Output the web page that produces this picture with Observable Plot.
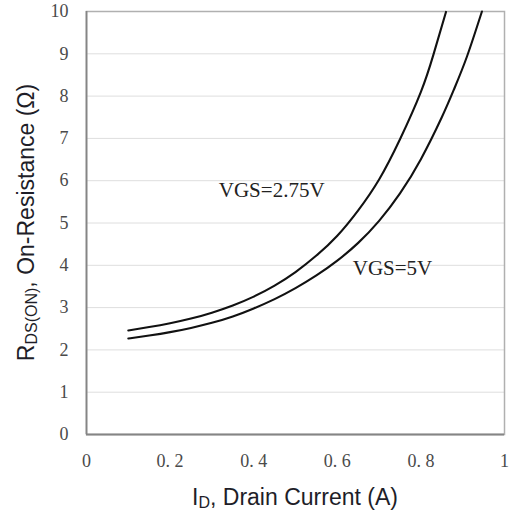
<!DOCTYPE html>
<html>
<head>
<meta charset="utf-8">
<script src="https://cdn.jsdelivr.net/npm/d3@7"></script>
<script src="https://cdn.jsdelivr.net/npm/@observablehq/plot@0.6"></script>
<style>
  html, body { margin: 0; padding: 0; background: #fff; }
  #chart svg { display: block; }
</style>
</head>
<body>
<div id="chart"></div>
<script>
// ---- data ----
const idVgs275 = [0.10, 0.15, 0.20, 0.25, 0.30, 0.35, 0.40, 0.45, 0.50, 0.55, 0.60, 0.65, 0.70, 0.75, 0.80, 0.83, 0.86];
const rVgs275  = [2.46, 2.54, 2.63, 2.74, 2.88, 3.05, 3.26, 3.52, 3.84, 4.23, 4.70, 5.30, 6.03, 6.98, 8.10, 8.98, 9.99];
const idVgs5   = [0.10, 0.15, 0.20, 0.25, 0.30, 0.35, 0.40, 0.45, 0.50, 0.55, 0.60, 0.65, 0.70, 0.75, 0.80, 0.85, 0.88, 0.91, 0.946];
const rVgs5    = [2.27, 2.34, 2.42, 2.52, 2.64, 2.79, 2.98, 3.20, 3.46, 3.76, 4.11, 4.53, 5.05, 5.70, 6.51, 7.50, 8.18, 8.93, 10.0];
const seriesNames = ["VGS=2.75V", "VGS=5V"];
const labelId = [0.443, 0.732];
const labelR  = [5.77, 3.92];
const xTicks = [0, 0.2, 0.4, 0.6, 0.8, 1];
const xTickLabels = ["0", "0. 2", "0. 4", "0. 6", "0. 8", "1"];
const yTicks = [0, 1, 2, 3, 4, 5, 6, 7, 8, 9, 10];
const gridTicks = [1, 2, 3, 4, 5, 6, 7, 8, 9];

const rows = [
  ...idVgs275.map((x, i) => ({x, y: rVgs275[i], s: seriesNames[0]})),
  ...idVgs5.map((x, i) => ({x, y: rVgs5[i], s: seriesNames[1]}))
];
const labels = seriesNames.map((t, i) => ({t, x: labelId[i], y: labelR[i]}));

const W = 513, H = 512;
const mL = 86, mR = 9, mT = 11, mB = 78;

const plot = Plot.plot({
  width: W, height: H,
  marginLeft: mL, marginRight: mR, marginTop: mT, marginBottom: mB,
  x: {domain: [0, 1]},
  y: {domain: [0, 10]},
  marks: [
    Plot.gridY(gridTicks, {stroke: "#dedede", strokeOpacity: 1, strokeWidth: 1}),
    Plot.frame({stroke: "#b0b0b0", strokeWidth: 1.5}),
    Plot.ruleX([0], {stroke: "#858585", strokeWidth: 1.8}),
    Plot.ruleY([0], {stroke: "#858585", strokeWidth: 1.8}),
    Plot.line(rows, {x: "x", y: "y", z: "s", curve: "natural", stroke: "#111", strokeWidth: 2.1}),
    Plot.text(labels, {x: "x", y: "y", text: "t", fontFamily: "Liberation Serif", fontSize: 21, fill: "#222"}),
    Plot.axisY({ticks: yTicks, tickSize: 0, tickPadding: 18, label: null,
      fontFamily: "Liberation Serif", fontSize: 18, fill: "#4a4a4a"}),
    Plot.axisX({ticks: xTicks, tickSize: 0, tickPadding: 20, label: null,
      tickFormat: d => xTickLabels[xTicks.indexOf(d)],
      fontFamily: "Liberation Serif", fontSize: 18, fill: "#4a4a4a"})
  ]
});

document.getElementById("chart").appendChild(plot);

// axis titles with subscripts
const svg = d3.select(plot);
const xt = svg.append("text")
  .attr("x", mL + (W - mL - mR) / 2)
  .attr("y", 505)
  .attr("text-anchor", "middle")
  .attr("font-family", "Liberation Sans, Arial, sans-serif")
  .attr("font-size", 23)
  .attr("fill", "#1e1e28");
xt.append("tspan").text("I");
xt.append("tspan").attr("font-size", 16).attr("dy", 3).text("D");
xt.append("tspan").attr("dy", -3).text(", Drain Current (A)");

const yt = svg.append("text")
  .attr("transform", `translate(34,${mT + (H - mT - mB) / 2}) rotate(-90)`)
  .attr("text-anchor", "middle")
  .attr("font-family", "Liberation Sans, Arial, sans-serif")
  .attr("font-size", 23)
  .attr("fill", "#1e1e28");
yt.append("tspan").text("R");
yt.append("tspan").attr("font-size", 16).attr("dy", 3).text("DS(ON)");
yt.append("tspan").attr("dy", -3).text(", On-Resistance (Ω)");
</script>
</body>
</html>
